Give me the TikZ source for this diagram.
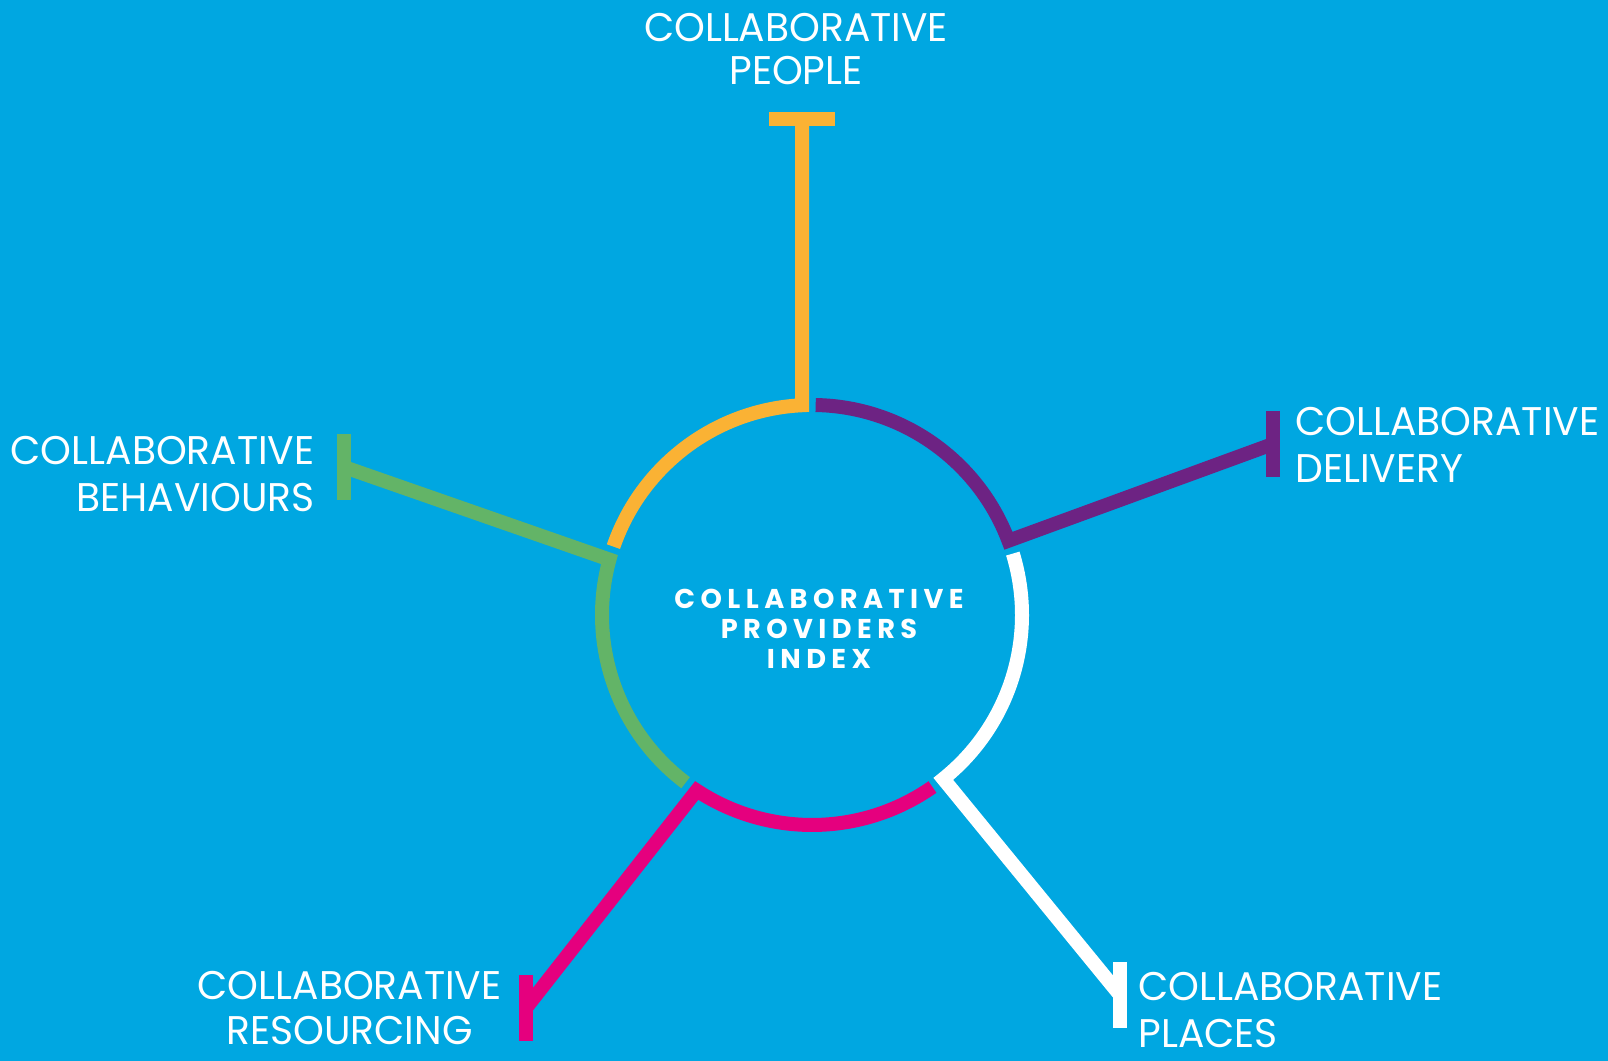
\documentclass[tikz,border=0pt]{standalone}
\usepackage{fontspec}
\newfontfamily\labelfont{Poppins}[FakeStretch=0.98]
\newfontfamily\hubfont{Poppins}[LetterSpace=20]
\definecolor{cpblue}{HTML}{00A7E1}
\definecolor{cpyellow}{HTML}{FAB234}
\definecolor{cppurple}{HTML}{6D2383}
\definecolor{cpgreen}{HTML}{63B467}
\definecolor{cppink}{HTML}{E5007E}
\tikzset{
  seg/.style={line width=7pt},
  lbl/.style={text=white, inner sep=0pt, font=\labelfont\fontsize{20}{23.5}\selectfont}
}
\begin{document}
\begin{tikzpicture}[x=0.5pt,y=0.5pt]
\useasboundingbox (0,0) rectangle (1608,1061);
\fill [cpblue] (0,0) rectangle (1608,1061);
\coordinate (ctr) at (812,446);
\coordinate (peoplebar) at (802,942);
\coordinate (deliverybar) at (1273,617);
\coordinate (placesbar) at (1120,66);
\coordinate (resourcingbar) at (526,53);
\coordinate (behavioursbar) at (344,594);
% ring and spokes
\draw [seg, cpyellow] ([shift={(161:210)}]ctr) arc [start angle=161, end angle=92.7, radius=210] -- (peoplebar);
\draw [seg, cpyellow] ([shift={(-33,0)}]peoplebar) -- ([shift={(33,0)}]peoplebar);
\draw [seg, cppurple] ([shift={(89:210)}]ctr) arc [start angle=89, end angle=20.7, radius=210] -- (deliverybar);
\draw [seg, cppurple] ([shift={(0,33)}]deliverybar) -- ([shift={(0,-33)}]deliverybar);
\draw [seg, white] ([shift={(17:210)}]ctr) arc [start angle=17, end angle=-51.3, radius=210] -- (placesbar);
\draw [seg, white] ([shift={(0,33)}]placesbar) -- ([shift={(0,-33)}]placesbar);
\draw [seg, cppink] ([shift={(-55:210)}]ctr) arc [start angle=-55, end angle=-123.3, radius=210] -- (resourcingbar);
\draw [seg, cppink] ([shift={(0,33)}]resourcingbar) -- ([shift={(0,-33)}]resourcingbar);
\draw [seg, cpgreen] ([shift={(-127:210)}]ctr) arc [start angle=-127, end angle=-195.3, radius=210] -- (behavioursbar);
\draw [seg, cpgreen] ([shift={(0,33)}]behavioursbar) -- ([shift={(0,-33)}]behavioursbar);
% labels (anchored on the last line)
\node (hub) at (819,392) [anchor=base, align=center, text=white, inner sep=0pt,
  font=\hubfont\bfseries\fontsize{13.6}{15}\selectfont] {COLLABORATIVE\\PROVIDERS\\INDEX};
\node (people) at (796,976) [lbl, anchor=base, align=center, font=\labelfont\fontsize{20}{21.5}\selectfont] {COLLABORATIVE\\PEOPLE};
\node (delivery) at (1295,578) [lbl, anchor=base west, align=left] {COLLABORATIVE\\DELIVERY};
\node (places) at (1138,13) [lbl, anchor=base west, align=left] {COLLABORATIVE\\PLACES};
\node (resourcing) at (502,16) [lbl, anchor=base east, align=center, font=\labelfont\fontsize{20}{22.5}\selectfont] {COLLABORATIVE\\RESOURCING};
\node (behaviours) at (315,549) [lbl, anchor=base east, align=right] {COLLABORATIVE\\BEHAVIOURS};
\end{tikzpicture}
\end{document}
